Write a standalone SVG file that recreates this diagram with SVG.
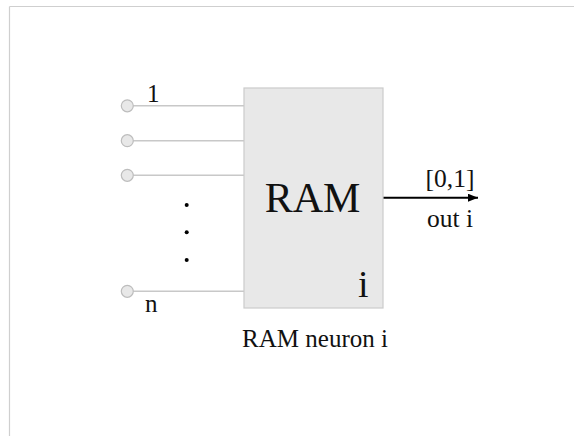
<svg xmlns="http://www.w3.org/2000/svg" width="574" height="436" viewBox="0 0 574 436">
<defs>
<style>
.t{font-family:"Liberation Serif","Times New Roman",serif;fill:#111;}
.wire{stroke:#c8c8c8;stroke-width:1.5;fill:none;}
.pin{fill:#e8e8e8;stroke:#bdbdbd;stroke-width:1.2;}
.dot{fill:#000;}
</style>
<marker id="ah" viewBox="0 0 10 8" markerWidth="10" markerHeight="8" refX="10" refY="4" orient="auto" markerUnits="userSpaceOnUse">
<path d="M0,0 L10,4 L0,8 Z" fill="#000"/>
</marker>
</defs>
<rect width="574" height="436" fill="#fff"/>
<g id="frame">
<line x1="9.5" y1="6.5" x2="574" y2="6.5" stroke="#cfcfcf" stroke-width="1.2"/>
<line x1="9.5" y1="6.5" x2="9.5" y2="436" stroke="#cfcfcf" stroke-width="1.2"/>
</g>
<g id="connectors">
<line class="wire" x1="133" y1="105.8" x2="244" y2="105.8"/>
<line class="wire" x1="133" y1="140.7" x2="244" y2="140.7"/>
<line class="wire" x1="133" y1="175.3" x2="244" y2="175.3"/>
<line class="wire" x1="133" y1="291.3" x2="244" y2="291.3"/>
<line x1="383" y1="197.7" x2="478" y2="197.7" stroke="#000" stroke-width="2" marker-end="url(#ah)"/>
</g>
<g id="inputs">
<circle class="pin" cx="127.3" cy="105.8" r="6"/>
<circle class="pin" cx="127.3" cy="140.7" r="6"/>
<circle class="pin" cx="127.3" cy="175.3" r="6"/>
<circle class="pin" cx="127.3" cy="291.3" r="6"/>
<text class="t" x="147" y="101.5" font-size="25">1</text>
<text class="t" x="145" y="312.3" font-size="25">n</text>
<circle class="dot" cx="186.7" cy="205" r="2"/>
<circle class="dot" cx="186.7" cy="232.3" r="2"/>
<circle class="dot" cx="186.7" cy="260" r="2"/>
</g>
<g id="ram">
<rect x="244" y="88" width="139" height="220" fill="#e8e8e8" stroke="#cbcbcb" stroke-width="1.2"/>
<text class="t" x="312.5" y="211.7" font-size="42" text-anchor="middle">RAM</text>
<text class="t" x="358" y="296.7" font-size="38">i</text>
</g>
<g id="output">
<text class="t" x="450" y="187" font-size="25.5" text-anchor="middle">[0,1]</text>
<text class="t" x="450" y="226.7" font-size="25.5" text-anchor="middle">out i</text>
</g>
<text class="t" x="315" y="346.7" font-size="25" text-anchor="middle">RAM neuron i</text>
</svg>
